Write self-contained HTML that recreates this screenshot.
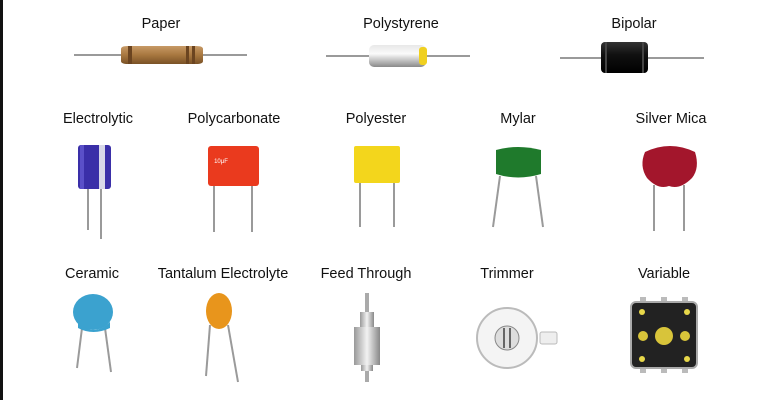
<!DOCTYPE html>
<html><head><meta charset="utf-8"><style>
html,body{margin:0;padding:0;background:#fff;}
svg{display:block}
text{font-family:"Liberation Sans",sans-serif;font-size:14.5px;fill:#111;text-anchor:middle}
</style></head><body>
<svg width="768" height="400" viewBox="0 0 768 400">
<defs>
<linearGradient id="silv" x1="0" y1="0" x2="0" y2="1"><stop offset="0" stop-color="#e8e8e8"/><stop offset=".4" stop-color="#fafafa"/><stop offset="1" stop-color="#8a8a8a"/></linearGradient>
<linearGradient id="silvh" x1="0" y1="0" x2="1" y2="0"><stop offset="0" stop-color="#999"/><stop offset=".5" stop-color="#f2f2f2"/><stop offset="1" stop-color="#888"/></linearGradient>
<linearGradient id="brn" x1="0" y1="0" x2="0" y2="1"><stop offset="0" stop-color="#c79a66"/><stop offset=".5" stop-color="#a8773f"/><stop offset="1" stop-color="#7a5226"/></linearGradient>
<linearGradient id="blk" x1="0" y1="0" x2="0" y2="1"><stop offset="0" stop-color="#333"/><stop offset=".4" stop-color="#111"/><stop offset="1" stop-color="#000"/></linearGradient>
</defs>
<rect x="0" y="0" width="3" height="400" fill="#111"/>
<g stroke="#9a9a9a" stroke-width="2" fill="none">
<line x1="74" y1="55" x2="247" y2="55"/>
<line x1="326" y1="56" x2="470" y2="56"/>
<line x1="560" y1="58" x2="704" y2="58"/>
<line x1="88" y1="185" x2="88" y2="230"/><line x1="101" y1="185" x2="101" y2="239"/>
<line x1="214" y1="184" x2="214" y2="232"/><line x1="252" y1="184" x2="252" y2="232"/>
<line x1="360" y1="180" x2="360" y2="227"/><line x1="394" y1="180" x2="394" y2="227"/>
<line x1="500" y1="176" x2="493" y2="227"/><line x1="536" y1="176" x2="543" y2="227"/>
<line x1="654" y1="185" x2="654" y2="231"/><line x1="684" y1="185" x2="684" y2="231"/>
<line x1="82" y1="328" x2="77" y2="368"/><line x1="105" y1="328" x2="111" y2="372"/>
<line x1="210" y1="325" x2="206" y2="376"/><line x1="228" y1="325" x2="238" y2="382"/>
</g>
<text x="161" y="28">Paper</text>
<text x="401" y="28">Polystyrene</text>
<text x="634" y="28">Bipolar</text>
<text x="98" y="123">Electrolytic</text>
<text x="234" y="123">Polycarbonate</text>
<text x="376" y="123">Polyester</text>
<text x="518" y="123">Mylar</text>
<text x="671" y="123">Silver Mica</text>
<text x="92" y="278">Ceramic</text>
<text x="223" y="278">Tantalum Electrolyte</text>
<text x="366" y="278">Feed Through</text>
<text x="507" y="278">Trimmer</text>
<text x="664" y="278">Variable</text>

<g>
<path d="M121 49 Q121 46 128 46 L196 46 Q203 46 203 49 L203 61 Q203 64 196 64 L128 64 Q121 64 121 61Z" fill="url(#brn)"/>
<rect x="128" y="46" width="4" height="18" fill="#6b4420"/><rect x="186" y="46" width="3" height="18" fill="#6b4420"/><rect x="192" y="46" width="3" height="18" fill="#6b4420"/>
</g>
<g>
<rect x="369" y="45" width="57" height="22" rx="5" fill="url(#silv)"/>
<rect x="419" y="47" width="8" height="18" rx="3" fill="#f0d020"/>
</g>
<g>
<rect x="601" y="42" width="47" height="31" rx="4" fill="url(#blk)"/>
<rect x="605" y="42" width="2" height="31" fill="#444"/><rect x="642" y="42" width="2" height="31" fill="#444"/>
</g>
<g>
<rect x="78" y="145" width="33" height="44" rx="3" fill="#3a2fa8"/>
<rect x="99" y="145" width="6" height="44" fill="#d8d8e8"/>
<rect x="80" y="145" width="4" height="44" fill="#5a50c8"/>
</g>
<g>
<rect x="208" y="146" width="51" height="40" rx="3" fill="#ea3a1e"/>
<text x="221" y="163" style="font-size:6px;fill:#fff">10μF</text>
</g>
<g>
<rect x="354" y="146" width="46" height="37" rx="2" fill="#f3d61c"/>
</g>
<g>
<path d="M496 150 Q518 144 541 150 L541 174 Q518 181 496 174Z" fill="#1f7a2c"/>
</g>
<g>
<path d="M645 152 Q670 140 695 152 Q700 168 692 178 Q680 190 669 186 Q658 190 647 178 Q639 166 645 152Z" fill="#a3162c"/>
</g>
<g>
<ellipse cx="93" cy="312" rx="20" ry="18" fill="#3ba2cf"/>
<path d="M78 322 Q93 338 110 322 L110 328 Q93 336 78 328Z" fill="#3ba2cf"/>
</g>
<g>
<ellipse cx="219" cy="311" rx="13" ry="18" fill="#e8951c"/>
</g>
<g>
<rect x="365" y="293" width="4" height="89" fill="#aaa"/>
<rect x="360" y="312" width="14" height="15" fill="url(#silvh)"/>
<rect x="354" y="327" width="26" height="38" fill="url(#silvh)"/>
<rect x="361" y="365" width="12" height="6" fill="url(#silvh)"/>
</g>
<g>
<rect x="540" y="332" width="17" height="12" rx="2" fill="#eee" stroke="#bbb"/>
<circle cx="507" cy="338" r="30" fill="#f4f4f4" stroke="#bbb" stroke-width="2"/>
<circle cx="507" cy="338" r="12" fill="#ddd" stroke="#888"/>
<rect x="503" y="328" width="2" height="20" fill="#666"/><rect x="509" y="328" width="2" height="20" fill="#666"/>
</g>
<g>
<g fill="#bbb"><rect x="640" y="297" width="6" height="6"/><rect x="661" y="297" width="6" height="6"/><rect x="682" y="297" width="6" height="6"/>
<rect x="640" y="367" width="6" height="6"/><rect x="661" y="367" width="6" height="6"/><rect x="682" y="367" width="6" height="6"/></g>
<rect x="631" y="302" width="66" height="66" rx="5" fill="#222" stroke="#aaa" stroke-width="2"/>
<circle cx="664" cy="336" r="9" fill="#d8c43a"/>
<circle cx="643" cy="336" r="5" fill="#d8c43a"/><circle cx="685" cy="336" r="5" fill="#d8c43a"/>
<circle cx="642" cy="312" r="3" fill="#e8d84a"/><circle cx="687" cy="312" r="3" fill="#e8d84a"/>
<circle cx="642" cy="359" r="3" fill="#e8d84a"/><circle cx="687" cy="359" r="3" fill="#e8d84a"/>
</g>
</svg>
</body></html>
